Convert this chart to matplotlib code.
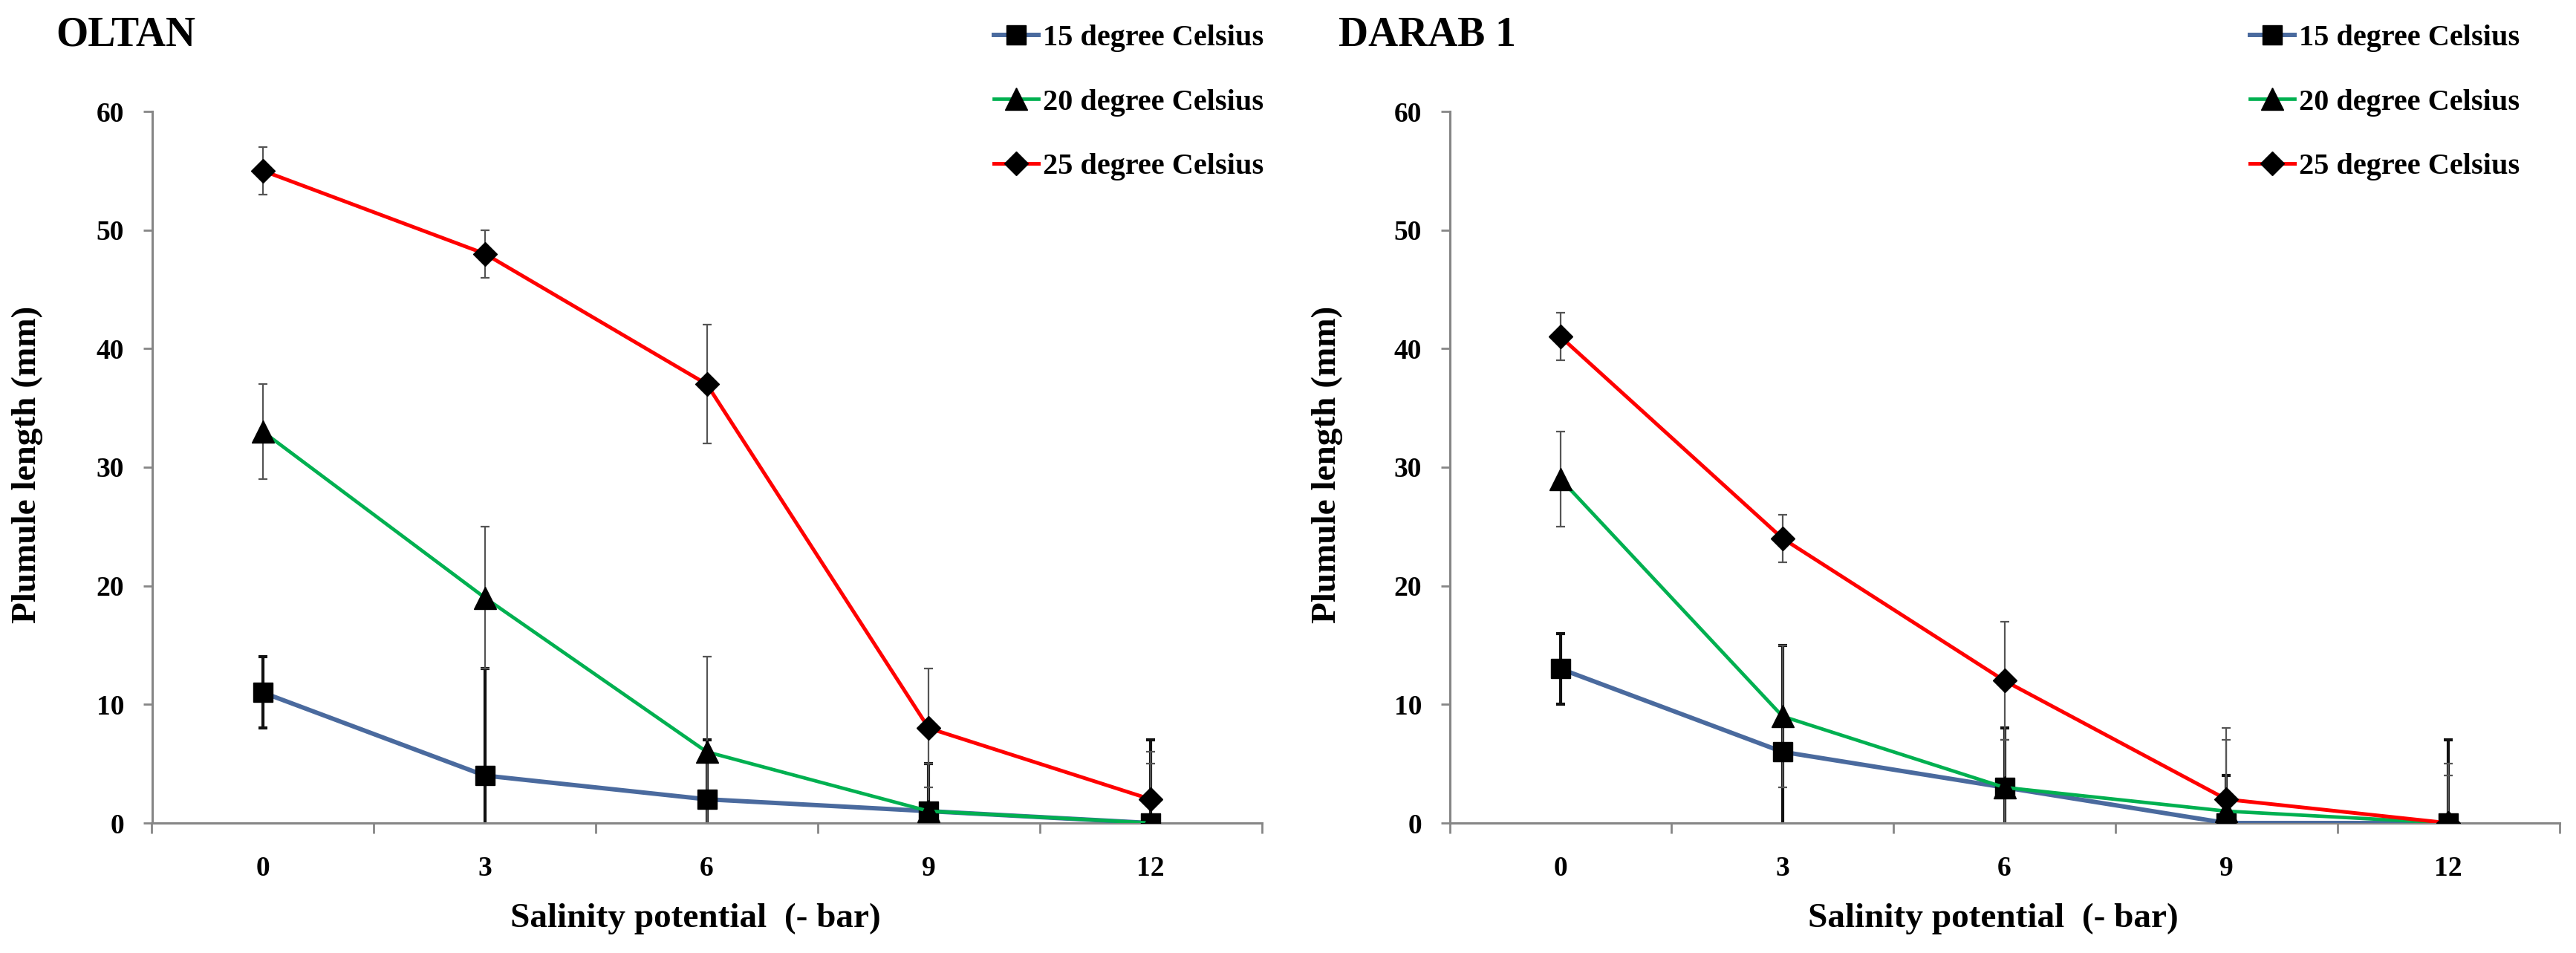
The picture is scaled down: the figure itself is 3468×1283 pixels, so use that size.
import matplotlib
matplotlib.use('Agg')
import matplotlib.pyplot as plt
import numpy as np

plt.rcParams['font.family'] = ['Liberation Serif', 'DejaVu Serif']
plt.rcParams['font.weight'] = 'bold'

# ---------------- data ----------------
categories = ['0', '3', '6', '9', '12']
series_labels = ['15 degree Celsius', '20 degree Celsius', '25 degree Celsius']
panel_titles = ['OLTAN', 'DARAB 1']

oltan_15 = [11, 4, 2, 1, 0]
oltan_15_err = [3, 9, 5, 4, 7]
oltan_20 = [33, 19, 6, 1, 0]
oltan_20_err = [4, 6, 8, 4, 5]
oltan_25 = [55, 48, 37, 8, 2]
oltan_25_err = [2, 2, 5, 5, 4]

darab_15 = [13, 6, 3, 0, 0]
darab_15_err = [3, 9, 5, 4, 7]
darab_20 = [29, 9, 3, 1, 0]
darab_20_err = [4, 6, 4, 6, 5]
darab_25 = [41, 24, 12, 2, 0]
darab_25_err = [2, 2, 5, 6, 4]

y_ticks = [0, 10, 20, 30, 40, 50, 60]
x_label = 'Salinity potential  (- bar)'
y_label = 'Plumule length (mm)'

# ---------------- styles ----------------
line_colors = ['#4A6A9E', '#00B050', '#FF0000']
line_widths = [4.3, 3.4, 3.6]
markers = ['s', '^', 'D']
marker_sizes = [19, 21, 16]
err_colors = ['#111111', '#555555', '#555555']
err_widths = [3.0, 1.6, 1.6]
axis_grey = '#868686'

W, H = 3468, 1283
fig = plt.figure(figsize=(W / 100, H / 100), dpi=100)

ax_w = 1494 / W
ax_h = (1108 - 150) / H
ax_b = 1 - 1108 / H
lefts = [204.5 / W, 1951.5 / W]

panels = [
    [(oltan_15, oltan_15_err), (oltan_20, oltan_20_err), (oltan_25, oltan_25_err)],
    [(darab_15, darab_15_err), (darab_20, darab_20_err), (darab_25, darab_25_err)],
]
title_x = [75, 1802]
legend_x = [1338, 3029]
ylabel_x = [37, 1787]

x = np.arange(len(categories))

for p, (left, data) in enumerate(zip(lefts, panels)):
    ax = fig.add_axes([left, ax_b, ax_w, ax_h])
    handles = []
    for i, (vals, errs) in enumerate(data):
        ax.errorbar(x, vals, yerr=errs, fmt='none', ecolor=err_colors[i],
                    elinewidth=err_widths[i], capsize=4.5, capthick=err_widths[i],
                    zorder=2)
    for i, (vals, errs) in enumerate(data):
        h, = ax.plot(x, vals, color=line_colors[i], lw=line_widths[i],
                     marker=markers[i], ms=marker_sizes[i], mfc='black', mec='black',
                     zorder=3 + i, label=series_labels[i])
        handles.append(h)

    ax.set_xlim(-0.5, len(categories) - 0.5)
    ax.set_ylim(0, 60)
    ax.set_yticks(y_ticks)
    ax.set_yticklabels([str(t) for t in y_ticks])
    ax.set_xticks(x)
    ax.set_xticklabels(categories)
    ax.set_xticks(np.arange(len(categories) + 1) - 0.5, minor=True)

    for s in ['top', 'right']:
        ax.spines[s].set_visible(False)
    for s in ['left', 'bottom']:
        ax.spines[s].set_color(axis_grey)
        ax.spines[s].set_linewidth(2.2)

    ax.tick_params(axis='y', which='major', direction='out', length=9, width=2,
                   color=axis_grey, labelsize=27, pad=18)
    ax.tick_params(axis='x', which='major', length=0, labelsize=27, pad=32)
    ax.tick_params(axis='x', which='minor', direction='out', length=10, width=2,
                   color=axis_grey)
    for lab in ax.get_xticklabels() + ax.get_yticklabels():
        lab.set_fontweight('bold')

    # panel title
    fig.text(title_x[p] / W, 1 - 48 / H, panel_titles[p], fontsize=40,
             fontweight='bold', ha='left', va='center')
    # axis labels
    fig.text(ylabel_x[p] / W, 1 - 625 / H, y_label, fontsize=34, fontweight='bold',
             rotation=90, ha='center', va='center')
    fig.text((left * W + 747 - 15) / W, 1 - 1237 / H, x_label, fontsize=34,
             fontweight='bold', ha='center', va='center')

    leg = ax.legend(handles=handles, loc='upper left',
                    bbox_to_anchor=(legend_x[p] / W, 1 - 33 / H),
                    bbox_transform=fig.transFigure, frameon=False,
                    prop={'size': 29, 'weight': 'bold'}, handlelength=1.5,
                    handletextpad=0.15, labelspacing=1.22, borderpad=0,
                    borderaxespad=0)

fig.savefig('out.png', dpi=100)
